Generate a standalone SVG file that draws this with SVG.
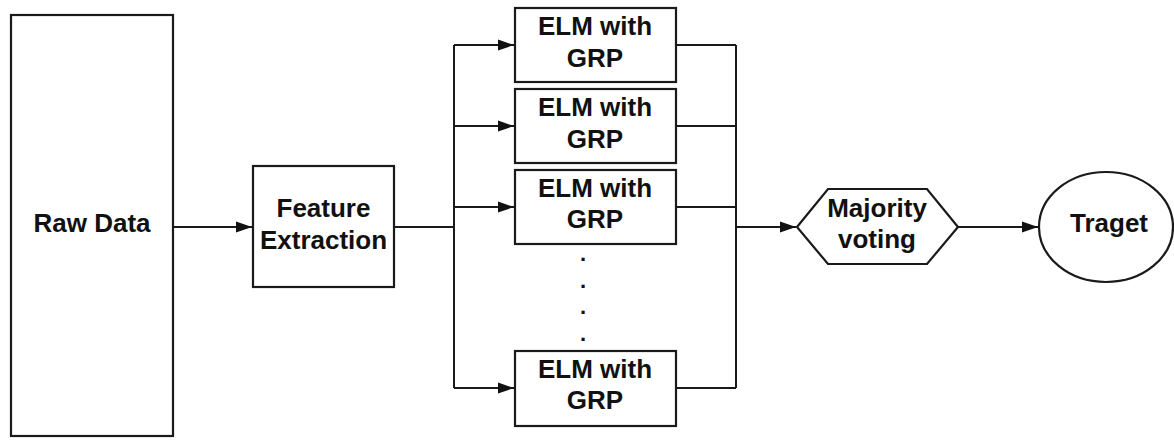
<svg xmlns="http://www.w3.org/2000/svg" width="1174" height="440" viewBox="0 0 1174 440">
<defs>
<marker id="arr" markerUnits="userSpaceOnUse" markerWidth="17" markerHeight="12" refX="16" refY="6" orient="auto">
<path d="M0,0.5 L16,6 L0,11.5 z" fill="#111"/>
</marker>
<style>
.box{fill:#fff;stroke:#1a1a1a;stroke-width:2.2}
.lbl{font-family:"Liberation Sans",Arial,sans-serif;font-weight:bold;font-size:26px;fill:#111;text-anchor:middle}
.dot{font-family:"Liberation Sans",Arial,sans-serif;font-weight:bold;font-size:22px;fill:#111;text-anchor:middle}
.ln{fill:none;stroke:#1a1a1a;stroke-width:2}
</style>
</defs>
<rect width="1174" height="440" fill="#fff"/>
<g id="connectors">
<path class="ln" d="M173,227 H252" marker-end="url(#arr)"/>
<path class="ln" d="M394,227 H454"/>
<path class="ln" d="M454,45 V388"/>
<path class="ln" d="M454,45 H514" marker-end="url(#arr)"/>
<path class="ln" d="M454,126 H514" marker-end="url(#arr)"/>
<path class="ln" d="M454,207 H514" marker-end="url(#arr)"/>
<path class="ln" d="M454,388 H514" marker-end="url(#arr)"/>
<path class="ln" d="M676,45 H736 M676,126 H736 M676,207 H736 M676,388 H736"/>
<path class="ln" d="M736,45 V388"/>
<path class="ln" d="M736,227 H796" marker-end="url(#arr)"/>
<path class="ln" d="M958,227 H1038" marker-end="url(#arr)"/>
</g>
<g id="raw-data">
<rect class="box" x="11" y="15" width="162" height="421"/>
<text class="lbl" x="92" y="232">Raw Data</text>
</g>
<g id="feature-extraction">
<rect class="box" x="253" y="166" width="141" height="121"/>
<text class="lbl" x="323.5" y="217">Feature</text>
<text class="lbl" x="323.5" y="249">Extraction</text>
</g>
<g id="elm1">
<rect class="box" x="515" y="8" width="161" height="74"/>
<text class="lbl" x="595" y="35">ELM with</text>
<text class="lbl" x="595" y="67">GRP</text>
</g>
<g id="elm2">
<rect class="box" x="515" y="89" width="161" height="74"/>
<text class="lbl" x="595" y="116">ELM with</text>
<text class="lbl" x="595" y="148">GRP</text>
</g>
<g id="elm3">
<rect class="box" x="515" y="170" width="161" height="74"/>
<text class="lbl" x="595" y="197">ELM with</text>
<text class="lbl" x="595" y="228">GRP</text>
</g>
<g id="dots">
<text class="dot" x="583" y="261">.</text>
<text class="dot" x="583" y="288">.</text>
<text class="dot" x="583" y="314">.</text>
<text class="dot" x="583" y="341">.</text>
</g>
<g id="elm4">
<rect class="box" x="515" y="351" width="161" height="75"/>
<text class="lbl" x="595" y="378">ELM with</text>
<text class="lbl" x="595" y="409">GRP</text>
</g>
<g id="majority-voting">
<polygon class="box" points="797,227 828,189 927,189 958,227 927,264 828,264"/>
<text class="lbl" x="877" y="217">Majority</text>
<text class="lbl" x="877" y="248">voting</text>
</g>
<g id="target">
<ellipse class="box" cx="1106" cy="227" rx="67" ry="55"/>
<text class="lbl" x="1109" y="232">Traget</text>
</g>
</svg>
